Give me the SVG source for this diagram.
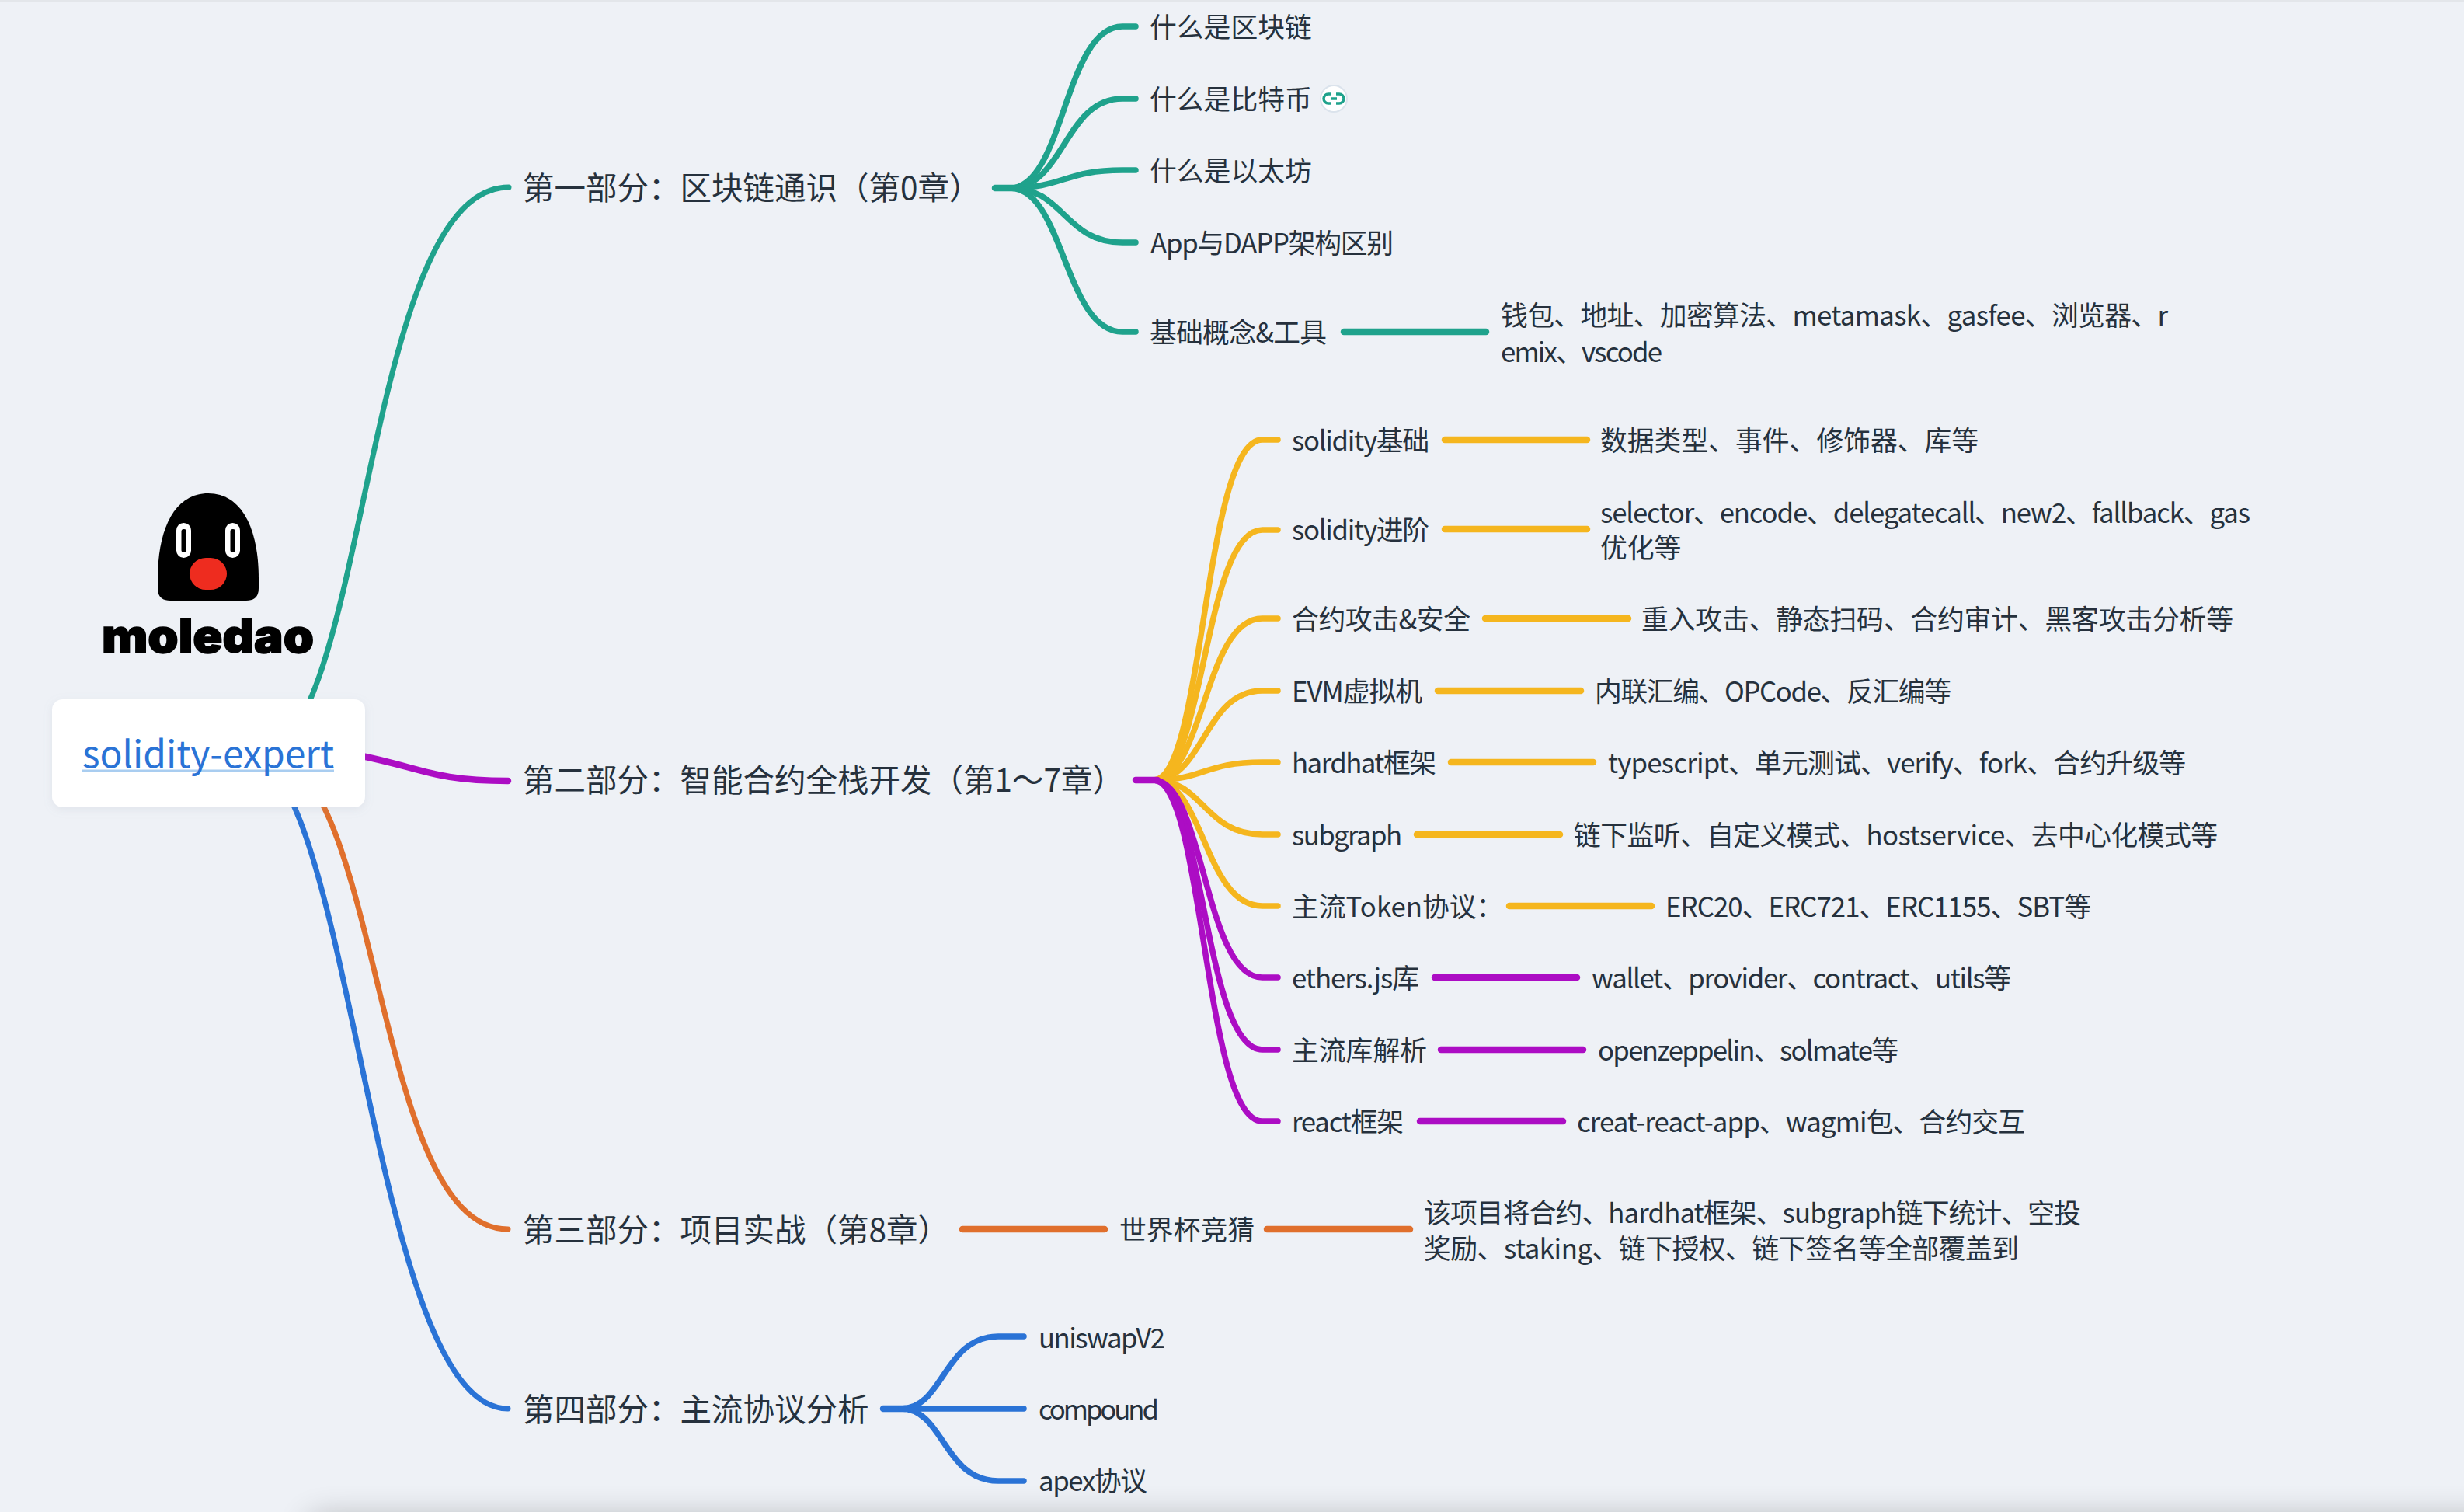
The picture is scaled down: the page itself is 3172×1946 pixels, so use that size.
<svg xmlns="http://www.w3.org/2000/svg" width="3172" height="1946" viewBox="0 0 3172 1946">
<defs>
<style>
text{font-family:"Noto Sans CJK SC","Noto Sans",sans-serif;fill:#26313d}
.l1{font-size:40.5px}
.l2{font-size:34.8px}
.c{fill:none;stroke-linecap:round;stroke-width:7.5}
.r{fill:none;stroke-linecap:round;stroke-width:7}
.s{fill:none;stroke-linecap:round;stroke-width:8.5}
.teal{stroke:#1fa28c}.gold{stroke:#f5b61e}.purple{stroke:#ac0dc4}.orange{stroke:#e06f2c}.blue{stroke:#2a73d6}
</style>
<filter id="blur" x="-5%" y="-200%" width="110%" height="500%"><feGaussianBlur stdDeviation="22"/></filter>
<filter id="soft" x="-10%" y="-10%" width="120%" height="130%"><feDropShadow dx="0" dy="3" stdDeviation="6" flood-color="#8a97a8" flood-opacity=".15"/></filter>
</defs>
<rect width="3172" height="1946" fill="#eef1f6"/>
<rect width="3172" height="3" fill="#e3e6ea"/>
<rect x="400" y="1956" width="3000" height="40" fill="#000" opacity=".3" filter="url(#blur)"/>
<g id="connectors">
<path class="r teal" d="M332,970C474,970 466,241 655,241"/>
<path class="s purple" d="M440,968C540,985 550,1005 654,1005"/>
<path class="r orange" d="M340,970C493,970 478,1582 654,1582"/>
<path class="r blue" d="M315,970C455,970 475,1813 654,1813"/>
<path class="s teal" d="M1281,242L1305,242"/>
<path class="c teal" d="M1300,242C1370,242 1370,34 1445,34L1462,34"/>
<path class="c teal" d="M1300,242C1370,242 1370,127 1445,127L1462,127"/>
<path class="c teal" d="M1300,242C1370,242 1370,219 1445,219L1462,219"/>
<path class="c teal" d="M1300,242C1370,242 1370,312 1445,312L1462,312"/>
<path class="c teal" d="M1300,242C1370,242 1370,427 1445,427L1462,427"/>
<path class="s teal" d="M1730,427H1913"/>
<path class="c gold" d="M1485,1004C1550,1004 1550,566 1625,566L1645,566"/>
<path class="c gold" d="M1485,1004C1550,1004 1550,682 1625,682L1645,682"/>
<path class="c gold" d="M1485,1004C1550,1004 1550,796 1625,796L1645,796"/>
<path class="c gold" d="M1485,1004C1550,1004 1550,889 1625,889L1645,889"/>
<path class="c gold" d="M1485,1004C1550,1004 1550,981 1625,981L1645,981"/>
<path class="c gold" d="M1485,1004C1550,1004 1550,1074 1625,1074L1645,1074"/>
<path class="c gold" d="M1485,1004C1550,1004 1550,1166 1625,1166L1645,1166"/>
<path class="c purple" d="M1485,1004C1550,1004 1550,1258 1625,1258L1645,1258"/>
<path class="c purple" d="M1485,1004C1550,1004 1550,1351 1625,1351L1645,1351"/>
<path class="c purple" d="M1485,1004C1550,1004 1550,1443 1625,1443L1645,1443"/>
<path class="s purple" d="M1462,1004L1490,1004"/>
<path class="s gold" d="M1860,566H2043"/>
<path class="s gold" d="M1860,681H2043"/>
<path class="s gold" d="M1912,796H2096"/>
<path class="s gold" d="M1851,889H2035"/>
<path class="s gold" d="M1868,981H2051"/>
<path class="s gold" d="M1824,1074H2008"/>
<path class="s gold" d="M1943,1166H2126"/>
<path class="s purple" d="M1847,1258H2030"/>
<path class="s purple" d="M1855,1351H2038"/>
<path class="s purple" d="M1828,1443H2012"/>
<path class="s orange" d="M1239,1582H1422"/>
<path class="s orange" d="M1631,1582H1815"/>
<path class="s blue" d="M1137,1813H1165"/>
<path class="c blue" d="M1160,1813C1215,1813 1215,1720 1285,1720L1318,1720"/>
<path class="c blue" d="M1160,1813H1318"/>
<path class="c blue" d="M1160,1813C1215,1813 1215,1906 1285,1906L1318,1906"/>
</g>
<g id="logo">
<path d="M203,745C203,680 225,635 268,635C311,635 333,680 333,745V757Q333,773 317,773H219Q203,773 203,757Z" fill="#000"/>
<rect x="227" y="673" width="19" height="45" rx="9.5" fill="#fff"/>
<rect x="290" y="673" width="19" height="45" rx="9.5" fill="#fff"/>
<rect x="233.500" y="681" width="6.500" height="30" rx="3" fill="#000"/>
<rect x="296.500" y="681" width="6.500" height="30" rx="3" fill="#000"/>
<rect x="244" y="718" width="48" height="41" rx="21" fill="#ee2c1f"/>
<text x="131" y="840" font-size="60" font-weight="900" textLength="273" lengthAdjust="spacingAndGlyphs" style="font-family:Inter,'Noto Sans',sans-serif;fill:#000;stroke:#000;stroke-width:1.5">moledao</text>
</g>
<g id="root">
<rect x="67" y="900" width="403" height="139" rx="14" fill="#fff" filter="url(#soft)"/>
<rect x="106" y="990.500" width="324" height="3.500" fill="#a9cdf0"/>
<text x="106" y="988" font-size="48" textLength="324" style="fill:#2a73d6">solidity-expert</text>
</g>
<g id="part1"><text class="l1" x="673" y="257">第一部分&#xFF1A;区块链通识&#xFF08;第0章&#xFF09;</text></g>
<g id="part2"><text class="l1" x="673" y="1019">第二部分&#xFF1A;智能合约全栈开发&#xFF08;第1&#xFF5E;7章&#xFF09;</text></g>
<g id="part3"><text class="l1" x="673" y="1598">第三部分&#xFF1A;项目实战&#xFF08;第8章&#xFF09;</text></g>
<g id="part4"><text class="l1" x="673" y="1829">第四部分&#xFF1A;主流协议分析</text></g>
<g id="n1-1"><text class="l2" x="1480" y="48">什么是区块链</text></g>
<g id="n1-2"><text class="l2" x="1480" y="141">什么是比特币</text>
<circle cx="1717" cy="127" r="17" fill="#fff" stroke="#dbe3ec" stroke-width="2"/>
<path d="M1714,121h-4a6,6 0 0 0 0,12h4M1720,121h4a6,6 0 0 1 0,12h-4M1713,127h8" fill="none" stroke="#1fa28c" stroke-width="3.500"/></g>
<g id="n1-3"><text class="l2" x="1480" y="233">什么是以太坊</text></g>
<g id="n1-4"><text class="l2" x="1481" y="326" textLength="313">App与DAPP架构区别</text></g>
<g id="n1-5"><text class="l2" x="1480" y="441" textLength="228">基础概念&amp;工具</text></g>
<g id="n1-5-1"><text class="l2" x="1932" y="419" textLength="859">钱包、地址、加密算法、metamask、gasfee、浏览器、r</text><text class="l2" x="1932" y="466" textLength="208">emix、vscode</text></g>
<g id="n2-1"><text class="l2" x="1663" y="580" textLength="177">solidity基础</text></g>
<g id="n2-1-1"><text class="l2" x="2060" y="580">数据类型、事件、修饰器、库等</text></g>
<g id="n2-2"><text class="l2" x="1663" y="695" textLength="177">solidity进阶</text></g>
<g id="n2-2-1"><text class="l2" x="2060" y="673" textLength="837">selector、encode、delegatecall、new2、fallback、gas</text><text class="l2" x="2060" y="718">优化等</text></g>
<g id="n2-3"><text class="l2" x="1663" y="810" textLength="230">合约攻击&amp;安全</text></g>
<g id="n2-3-1"><text class="l2" x="2113" y="810" textLength="762">重入攻击、静态扫码、合约审计、黑客攻击分析等</text></g>
<g id="n2-4"><text class="l2" x="1663" y="903" textLength="168">EVM虚拟机</text></g>
<g id="n2-4-1"><text class="l2" x="2053" y="903" textLength="459">内联汇编、OPCode、反汇编等</text></g>
<g id="n2-5"><text class="l2" x="1663" y="995" textLength="186">hardhat框架</text></g>
<g id="n2-5-1"><text class="l2" x="2070" y="995" textLength="744">typescript、单元测试、verify、fork、合约升级等</text></g>
<g id="n2-6"><text class="l2" x="1663" y="1088" textLength="142">subgraph</text></g>
<g id="n2-6-1"><text class="l2" x="2026" y="1088" textLength="829">链下监听、自定义模式、hostservice、去中心化模式等</text></g>
<g id="n2-7"><text class="l2" x="1663" y="1180">主流Token协议&#xFF1A;</text></g>
<g id="n2-7-1"><text class="l2" x="2144" y="1180" textLength="548">ERC20、ERC721、ERC1155、SBT等</text></g>
<g id="n2-8"><text class="l2" x="1663" y="1272" textLength="164">ethers.js库</text></g>
<g id="n2-8-1"><text class="l2" x="2049" y="1272" textLength="540">wallet、provider、contract、utils等</text></g>
<g id="n2-9"><text class="l2" x="1663" y="1365">主流库解析</text></g>
<g id="n2-9-1"><text class="l2" x="2057" y="1365" textLength="387">openzeppelin、solmate等</text></g>
<g id="n2-10"><text class="l2" x="1663" y="1457" textLength="144">react框架</text></g>
<g id="n2-10-1"><text class="l2" x="2030" y="1457" textLength="577">creat-react-app、wagmi包、合约交互</text></g>
<g id="n3-1"><text class="l2" x="1441" y="1596">世界杯竞猜</text></g>
<g id="n3-1-1"><text class="l2" x="1833" y="1574" textLength="846">该项目将合约、hardhat框架、subgraph链下统计、空投</text><text class="l2" x="1833" y="1620" textLength="766">奖励、staking、链下授权、链下签名等全部覆盖到</text></g>
<g id="n4-1"><text class="l2" x="1337" y="1735" textLength="163">uniswapV2</text></g>
<g id="n4-2"><text class="l2" x="1337" y="1827" textLength="155">compound</text></g>
<g id="n4-3"><text class="l2" x="1337" y="1919" textLength="140">apex协议</text></g>
</svg>
